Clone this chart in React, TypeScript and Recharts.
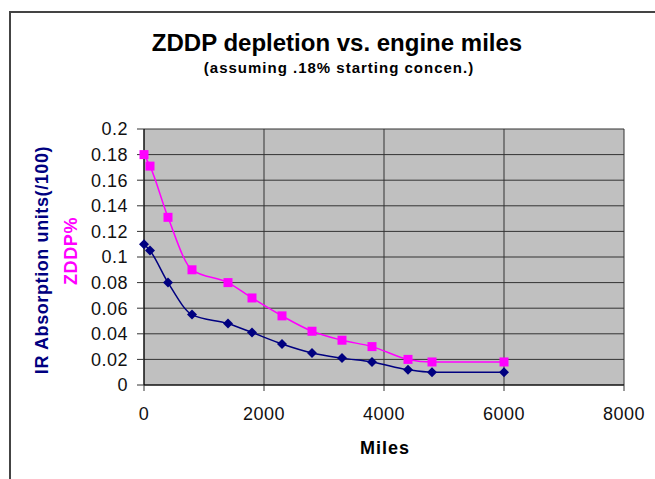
import React from 'react';
import { LineChart, Line, XAxis, YAxis, CartesianGrid } from 'recharts';

const miles = [0, 100, 400, 800, 1400, 1800, 2300, 2800, 3300, 3800, 4400, 4800, 6000];
const zddpPct = [0.18, 0.171, 0.131, 0.09, 0.08, 0.068, 0.054, 0.042, 0.035, 0.03, 0.02, 0.018, 0.018];
const irAbsorption = [0.11, 0.105, 0.08, 0.055, 0.048, 0.041, 0.032, 0.025, 0.021, 0.018, 0.012, 0.01, 0.01];

const xTicks = [0, 2000, 4000, 6000, 8000];
const yTicks = [0, 0.02, 0.04, 0.06, 0.08, 0.1, 0.12, 0.14, 0.16, 0.18, 0.2];

const data = miles.map((m, i) => ({ miles: m, zddp: zddpPct[i], ir: irAbsorption[i] }));

const FONT = 'Arial, "Liberation Sans", sans-serif';
const NAVY = '#000080';
const MAGENTA = '#FF00FF';

const SquareDot = (props: any) => {
  const { cx, cy } = props;
  if (cx == null || cy == null) return null;
  return <rect x={cx - 4.5} y={cy - 4.5} width={9} height={9} fill={MAGENTA} />;
};

const DiamondDot = (props: any) => {
  const { cx, cy } = props;
  if (cx == null || cy == null) return null;
  const r = 5;
  return (
    <polygon
      points={`${cx},${cy - r} ${cx + r},${cy} ${cx},${cy + r} ${cx - r},${cy}`}
      fill={NAVY}
    />
  );
};

const tickStyle = { fontSize: 18, fill: '#111', fontFamily: FONT, letterSpacing: 0.5 };

export default function App() {
  return (
    <div style={{ position: 'absolute', left: 0, top: 0, width: 655, height: 479, background: '#fff', overflow: 'hidden' }}>
      {/* outer chart frame, cut off at right/bottom like the screenshot */}
      <div style={{ position: 'absolute', left: 9, top: 11, width: 700, height: 520, borderLeft: '2px solid #444', borderTop: '2px solid #444' }} />
      <LineChart
        width={655}
        height={479}
        data={data}
        margin={{ top: 129, right: 31, bottom: 64, left: 64 }}
        style={{ position: 'absolute', left: 0, top: 0, fontFamily: FONT }}
      >
        <CartesianGrid stroke="#333" fill="#C0C0C0" fillOpacity={1} />
        <XAxis
          dataKey="miles"
          type="number"
          domain={[0, 8000]}
          ticks={xTicks}
          interval={0}
          height={30}
          tickSize={6}
          tickMargin={16}
          stroke="#000"
          tick={tickStyle}
          tickLine={{ stroke: '#333' }}
        />
        <YAxis
          type="number"
          domain={[0, 0.2]}
          ticks={yTicks}
          interval={0}
          width={80}
          tickSize={7}
          tickMargin={9}
          stroke="#000"
          tick={tickStyle}
          tickLine={{ stroke: '#333' }}
        />
        <Line
          type="monotone"
          dataKey="ir"
          stroke={NAVY}
          strokeWidth={1.5}
          dot={<DiamondDot />}
          activeDot={false}
          isAnimationActive={false}
        />
        <Line
          type="monotone"
          dataKey="zddp"
          stroke={MAGENTA}
          strokeWidth={1.5}
          dot={<SquareDot />}
          activeDot={false}
          isAnimationActive={false}
        />
      </LineChart>
      <svg width={655} height={479} style={{ position: 'absolute', left: 0, top: 0, pointerEvents: 'none' }}>
        <g fontFamily={FONT}>
          <text x={337} y={51} textAnchor="middle" fontSize={24} fontWeight="bold" fill="#000">
            ZDDP depletion vs. engine miles
          </text>
          <text x={339} y={73} textAnchor="middle" fontSize={15} fontWeight="bold" letterSpacing={1} fill="#000">
            (assuming .18% starting concen.)
          </text>
          <text x={385} y={454} textAnchor="middle" fontSize={18} fontWeight="bold" letterSpacing={1} fill="#000">
            Miles
          </text>
          <text x={48} y={260} textAnchor="middle" fontSize={18} fontWeight="bold" letterSpacing={0.6} fill={NAVY} transform="rotate(-90, 48, 260)">
            IR Absorption units(/100)
          </text>
          <text x={77} y={251} textAnchor="middle" fontSize={18} fontWeight="bold" letterSpacing={0.6} fill={MAGENTA} transform="rotate(-90, 77, 251)">
            ZDDP%
          </text>
        </g>
      </svg>
    </div>
  );
}
